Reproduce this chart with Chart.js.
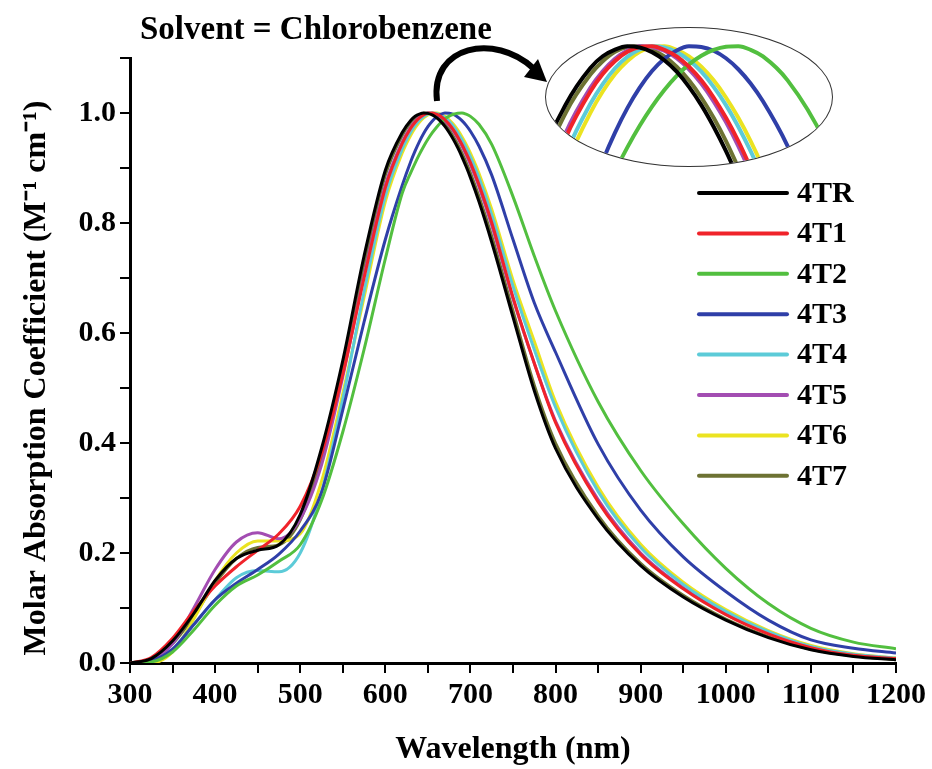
<!DOCTYPE html>
<html lang="en">
<head>
<meta charset="UTF-8" />
<title>Absorption spectra - Chlorobenzene</title>
<script src="https://cdn.jsdelivr.net/npm/chart.js"></script>
<style>
  body { margin: 0; background: #fff; }
  .wrap { position: relative; width: 932px; height: 769px; }
  canvas { display: block; }
  #inset {
    position: absolute;
    left: 545px;
    top: 27px;
    width: 286px;
    height: 138px;
    border: 1.5px solid #333;
    border-radius: 50%;
    overflow: hidden;
    background: #fff;
  }
</style>
</head>
<body>
<div class="wrap">
  <canvas id="mainChart" width="932" height="769"></canvas>
  <div id="inset"><canvas id="insetChart" width="286" height="138"></canvas></div>
</div>
<script>
// wavelength grid (nm), finer around the maxima
const wavelengths = [300, 325, 350, 375, 400, 425, 450, 475, 500, 525, 550, 575,
  600, 620,
  630, 635, 640, 645, 650, 655, 660, 665, 670, 675, 680, 685, 690, 695, 700,
  710, 725, 750, 775, 800,
  850, 900, 950, 1000, 1050, 1100, 1150, 1200];

// normalised absorption
const abs4TR = [0, 0.008, 0.04, 0.09, 0.15, 0.19, 0.205, 0.215, 0.27, 0.39, 0.55, 0.74,
  0.896, 0.965,
  0.987, 0.994, 0.998, 1.0, 0.9993, 0.9965, 0.9916, 0.9847, 0.9756, 0.9646, 0.9516, 0.9369, 0.9204, 0.9022, 0.8825,
  0.839, 0.765, 0.629, 0.495, 0.39,
  0.262, 0.177, 0.12, 0.078, 0.046, 0.024, 0.012, 0.006];
const abs4T1 = [0, 0.01, 0.045, 0.095, 0.14, 0.175, 0.205, 0.235, 0.285, 0.38, 0.525, 0.70,
  0.864, 0.945,
  0.9728, 0.9833, 0.9912, 0.9967, 0.9995, 1.0, 0.9979, 0.9939, 0.9877, 0.9795, 0.9692, 0.957, 0.943, 0.927, 0.91,
  0.870, 0.801, 0.665, 0.545, 0.437,
  0.293, 0.197, 0.135, 0.088, 0.053, 0.028, 0.014, 0.008];
const abs4T2 = [0, 0.002, 0.02, 0.06, 0.105, 0.14, 0.16, 0.185, 0.215, 0.295, 0.42, 0.57,
  0.735, 0.855,
  0.892, 0.909, 0.9248, 0.9392, 0.9522, 0.9637, 0.9737, 0.9822, 0.9891, 0.9943, 0.9978, 0.9997, 1.0, 0.9979, 0.9939,
  0.9795, 0.943, 0.848, 0.74, 0.64,
  0.475, 0.35, 0.253, 0.172, 0.108, 0.063, 0.038, 0.026];
const abs4T3 = [0, 0.004, 0.025, 0.07, 0.115, 0.145, 0.17, 0.198, 0.24, 0.31, 0.46, 0.62,
  0.77, 0.869,
  0.9123, 0.9312, 0.9481, 0.9628, 0.9751, 0.9851, 0.9925, 0.9975, 1.0, 0.9996, 0.9973, 0.9928, 0.9862, 0.9776, 0.9669,
  0.940, 0.887, 0.77, 0.655, 0.565,
  0.398, 0.278, 0.193, 0.13, 0.078, 0.042, 0.027, 0.018];
const abs4T4 = [0, 0.003, 0.025, 0.07, 0.115, 0.155, 0.168, 0.166, 0.20, 0.31, 0.48, 0.675,
  0.849, 0.935,
  0.9654, 0.9773, 0.9868, 0.9937, 0.9981, 1.0, 0.9993, 0.9965, 0.9916, 0.9847, 0.9756, 0.9646, 0.9516, 0.9369, 0.9204,
  0.8825, 0.815, 0.685, 0.57, 0.465,
  0.312, 0.21, 0.143, 0.094, 0.057, 0.03, 0.016, 0.009];
const abs4T5 = [0, 0.005, 0.035, 0.10, 0.17, 0.22, 0.237, 0.226, 0.262, 0.36, 0.52, 0.705,
  0.869, 0.948,
  0.975, 0.985, 0.9925, 0.9975, 1.0, 0.9996, 0.9973, 0.9928, 0.9862, 0.9776, 0.9669, 0.9544, 0.94, 0.9238, 0.906,
  0.866, 0.796, 0.662, 0.545, 0.44,
  0.297, 0.2, 0.137, 0.09, 0.055, 0.029, 0.015, 0.008];
const abs4T6 = [0, 0, 0.02, 0.08, 0.15, 0.20, 0.222, 0.222, 0.235, 0.33, 0.49, 0.665,
  0.839, 0.928,
  0.96, 0.9728, 0.9833, 0.9912, 0.9967, 0.9995, 1.0, 0.9979, 0.9939, 0.9877, 0.9795, 0.9692, 0.957, 0.943, 0.927,
  0.8906, 0.825, 0.696, 0.585, 0.475,
  0.32, 0.216, 0.147, 0.097, 0.059, 0.032, 0.017, 0.009];
const abs4T7 = [0, 0.006, 0.035, 0.085, 0.145, 0.19, 0.21, 0.215, 0.26, 0.375, 0.54, 0.725,
  0.887, 0.96,
  0.983, 0.991, 0.9967, 0.9995, 1.0, 0.9979, 0.9939, 0.9877, 0.9795, 0.9692, 0.957, 0.943, 0.927, 0.91, 0.891,
  0.848, 0.776, 0.64, 0.505, 0.40,
  0.268, 0.181, 0.123, 0.08, 0.048, 0.025, 0.013, 0.006];

const seriesNames = ["4TR", "4T1", "4T2", "4T3", "4T4", "4T5", "4T6", "4T7"];
const seriesValues = [abs4TR, abs4T1, abs4T2, abs4T3, abs4T4, abs4T5, abs4T6, abs4T7];
const seriesColors = ["#000000", "#f0232a", "#52bf3f", "#2f3fa8", "#5ccbd8",
  "#a34db2", "#ebe321", "#6d7233"];

const yTickValues = [0, 0.2, 0.4, 0.6, 0.8, 1.0];
const xTickValues = [300, 400, 500, 600, 700, 800, 900, 1000, 1100, 1200];

const serif = '"Liberation Serif", "Times New Roman", serif';

function makeDatasets(width) {
  return seriesNames.map((name, i) => ({
    label: name,
    data: wavelengths.map((w, j) => ({ x: w, y: seriesValues[i][j] })),
    borderColor: seriesColors[i],
    backgroundColor: seriesColors[i],
    borderWidth: width,
    pointRadius: 0,
    cubicInterpolationMode: "monotone",
    fill: false,
  }));
}

// title, y title, legend and the arrow pointing at the zoomed inset
const decorPlugin = {
  id: "decor",
  afterDraw(chart) {
    const ctx = chart.ctx;
    ctx.save();
    ctx.fillStyle = "#000";
    ctx.font = "bold 33px " + serif;
    ctx.textBaseline = "alphabetic";
    ctx.fillText("Solvent = Chlorobenzene", 140, 39);

    ctx.save();
    ctx.translate(37, 378);
    ctx.rotate(-Math.PI / 2);
    ctx.textAlign = "center";
    ctx.textBaseline = "middle";
    ctx.font = "bold 32px " + serif;
    ctx.fillText("Molar Absorption Coefficient (M\u207B\u00B9 cm\u207B\u00B9)", 0, 0);
    ctx.restore();

    ctx.font = "bold 30px " + serif;
    ctx.textBaseline = "middle";
    seriesNames.forEach((name, i) => {
      const y = 193 + i * 40.4;
      ctx.strokeStyle = seriesColors[i];
      ctx.lineWidth = 4;
      ctx.lineCap = "round";
      ctx.beginPath();
      ctx.moveTo(699, y);
      ctx.lineTo(787, y);
      ctx.stroke();
      ctx.fillStyle = "#000";
      ctx.fillText(name, 797, y + 1);
    });

    // curved arrow
    ctx.strokeStyle = "#000";
    ctx.fillStyle = "#000";
    ctx.lineWidth = 6;
    ctx.lineCap = "butt";
    ctx.beginPath();
    ctx.moveTo(437, 101);
    ctx.bezierCurveTo(430, 45, 495, 33, 533, 68);
    ctx.stroke();
    ctx.beginPath();
    ctx.moveTo(547, 82);
    ctx.lineTo(524, 77);
    ctx.lineTo(538, 59);
    ctx.closePath();
    ctx.fill();
    ctx.restore();
  },
};

new Chart(document.getElementById("mainChart"), {
  type: "line",
  data: { datasets: makeDatasets(3) },
  options: {
    responsive: false,
    animation: false,
    events: [],
    layout: { padding: { top: 58, right: 36, left: 0, bottom: 0 } },
    plugins: { legend: { display: false }, tooltip: { enabled: false } },
    scales: {
      x: {
        type: "linear",
        min: 300,
        max: 1200,
        afterFit: (s) => { s.height = 106; },
        ticks: {
          stepSize: 50,
          autoSkip: false,
          maxRotation: 0,
          color: "#000",
          padding: 4,
          font: { family: serif, size: 30, weight: "bold" },
          callback: (v) => (xTickValues.includes(v) ? String(v) : ""),
        },
        grid: { drawOnChartArea: false, drawTicks: true, tickLength: 10, color: "#000", lineWidth: 2 },
        border: { display: true, color: "#000", width: 3 },
        title: {
          display: true,
          text: "Wavelength (nm)",
          color: "#000",
          padding: 0,
          font: { family: serif, size: 32, weight: "bold" },
        },
      },
      y: {
        min: 0,
        max: 1.1,
        afterFit: (s) => { s.width = 130; },
        ticks: {
          stepSize: 0.1,
          autoSkip: false,
          color: "#000",
          padding: 4,
          font: { family: serif, size: 30, weight: "bold" },
          callback: (v) => {
            const hit = yTickValues.find((t) => Math.abs(t - v) < 1e-6);
            return hit !== undefined ? hit.toFixed(1) : "";
          },
        },
        grid: { drawOnChartArea: false, drawTicks: true, tickLength: 10, color: "#000", lineWidth: 2 },
        border: { display: true, color: "#000", width: 3 },
      },
    },
  },
  plugins: [decorPlugin],
});

// zoomed view of the peak maxima
new Chart(document.getElementById("insetChart"), {
  type: "line",
  data: { datasets: makeDatasets(4) },
  options: {
    responsive: false,
    animation: false,
    events: [],
    layout: { padding: 0 },
    plugins: { legend: { display: false }, tooltip: { enabled: false } },
    scales: {
      x: { type: "linear", min: 612, max: 728, display: false },
      y: { min: 0.928, max: 1.011, display: false },
    },
  },
});
</script>
</body>
</html>
